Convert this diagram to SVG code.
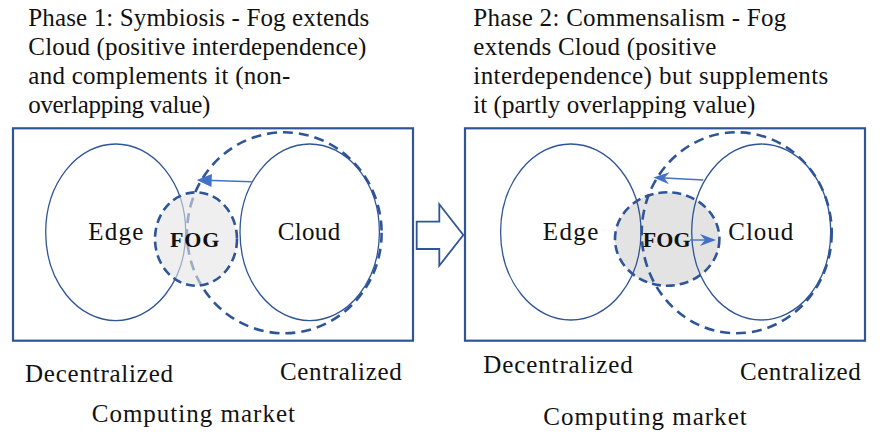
<svg xmlns="http://www.w3.org/2000/svg" width="880" height="435" viewBox="0 0 880 435">
  <defs>
    <style>
      .txt { font-family: "Liberation Serif", "Times New Roman", Times, serif; font-size: 25px; font-weight: normal; fill: #111; }
      .fog { font-family: "Liberation Serif", "Times New Roman", Times, serif; font-size: 22px; font-weight: bold; fill: #111; }
      .panel { fill: none; stroke: #2f5597; stroke-width: 2.2; }
      .set { fill: none; stroke: #2f5597; stroke-width: 1.3; }
      .reach { fill: none; stroke: #2f5597; stroke-width: 2.6; stroke-dasharray: 10 6; }
      .fogring { fill: none; stroke: #2f5597; stroke-width: 2.6; stroke-dasharray: 9 5; }
      .link { fill: none; stroke: #4472c4; stroke-width: 1.4; }
      .head { fill: #4472c4; stroke: none; }
    </style>
    <!-- arrowheads pointing along +x, tip at the origin -->
    <path id="tri" class="head" d="M0,0 L-15,-6.5 L-15,6.5 z"/>
    <path id="stealth" class="head" d="M0,0 L-16,-6 L-11,0 L-16,6 z"/>
  </defs>

  <!-- Phase 1 caption -->
  <g id="title1">
    <text class="txt" x="28.3" y="26" textLength="341" lengthAdjust="spacing">Phase 1: Symbiosis - Fog extends</text>
    <text class="txt" x="28.3" y="55" textLength="338" lengthAdjust="spacing">Cloud (positive interdependence)</text>
    <text class="txt" x="28.3" y="84" textLength="262" lengthAdjust="spacing">and complements it (non-</text>
    <text class="txt" x="28.3" y="112.5" textLength="182" lengthAdjust="spacing">overlapping value)</text>
  </g>

  <!-- Phase 2 caption -->
  <g id="title2">
    <text class="txt" x="473.3" y="26" textLength="313" lengthAdjust="spacing">Phase 2: Commensalism - Fog</text>
    <text class="txt" x="473.3" y="55" textLength="243" lengthAdjust="spacing">extends Cloud (positive</text>
    <text class="txt" x="473.3" y="84" textLength="355" lengthAdjust="spacing">interdependence) but supplements</text>
    <text class="txt" x="473.3" y="112.5" textLength="282" lengthAdjust="spacing">it (partly overlapping value)</text>
  </g>

  <!-- Phase 1 market -->
  <g id="panel1">
    <rect class="panel" x="13" y="128.3" width="400" height="212.4"/>
  </g>
  <g id="edge1">
    <ellipse class="set" cx="115.7" cy="232.3" rx="70" ry="88.3"/>
    <text class="txt" x="88.3" y="240" textLength="55" lengthAdjust="spacing">Edge</text>
  </g>
  <g id="cloud1">
    <ellipse class="set" cx="309.7" cy="232.3" rx="69.7" ry="88.3"/>
    <text class="txt" x="277.7" y="239.5" textLength="62.5" lengthAdjust="spacing">Cloud</text>
  </g>
  <g id="cloudreach1">
    <ellipse class="reach" cx="284.3" cy="232.8" rx="97.3" ry="100.5"/>
  </g>
  <g id="fog1">
    <ellipse cx="196" cy="239" rx="41" ry="46.7" fill="#e4e4e4" fill-opacity="0.6"/>
    <ellipse class="fogring" cx="196" cy="239" rx="41" ry="46.7"/>
    <text class="fog" x="170" y="246.7" textLength="49.3" lengthAdjust="spacing">FOG</text>
  </g>

  <!-- Phase 2 market -->
  <g id="panel2">
    <rect class="panel" x="465" y="128.3" width="400" height="212.4"/>
  </g>
  <g id="fog2">
    <ellipse cx="667.2" cy="239" rx="52.2" ry="46.7" fill="#e3e3e3"/>
  </g>
  <g id="edge2">
    <ellipse class="set" cx="570.8" cy="232" rx="70.2" ry="88"/>
    <text class="txt" x="542.7" y="240" textLength="55.6" lengthAdjust="spacing">Edge</text>
  </g>
  <g id="cloud2">
    <ellipse class="set" cx="761.2" cy="232" rx="69.5" ry="88"/>
    <text class="txt" x="728.3" y="239.5" textLength="65" lengthAdjust="spacing">Cloud</text>
  </g>
  <g id="cloudreach2">
    <ellipse class="reach" cx="736.7" cy="232.8" rx="95" ry="100.5"/>
  </g>
  <g id="fog2ring">
    <ellipse class="fogring" cx="667.2" cy="239" rx="52.2" ry="46.7"/>
    <text class="fog" x="642.7" y="246.7" textLength="48" lengthAdjust="spacing">FOG</text>
  </g>

  <!-- Transition between phases -->
  <g id="transition">
    <path d="M416.7,221.7 H439.3 V204.3 L463.3,235 L439.3,265.7 V249 H416.7 z" fill="#fff" stroke="#2f5597" stroke-width="1.8" stroke-linejoin="miter"/>
  </g>

  <!-- Connectors: shafts plus placed arrowheads -->
  <g id="connectors">
    <line class="link" x1="251.7" y1="181.7" x2="205" y2="180.3"/>
    <use href="#tri" transform="translate(196.7,180) rotate(181.8)"/>
    <line class="link" x1="703.3" y1="180" x2="660" y2="177.8"/>
    <use href="#stealth" transform="translate(653.3,177.5) rotate(182.9)"/>
    <line class="link" x1="690" y1="240" x2="708" y2="240"/>
    <use href="#stealth" transform="translate(716,240)"/>
  </g>

  <!-- Axis labels -->
  <g id="labels1">
    <text class="txt" x="25" y="381.7" textLength="148" lengthAdjust="spacing">Decentralized</text>
    <text class="txt" x="280" y="380" textLength="121.7" lengthAdjust="spacing">Centralized</text>
    <text class="txt" x="91.7" y="421.5" textLength="203.3" lengthAdjust="spacing">Computing market</text>
  </g>
  <g id="labels2">
    <text class="txt" x="483.3" y="373.3" textLength="149.4" lengthAdjust="spacing">Decentralized</text>
    <text class="txt" x="740" y="380" textLength="120.7" lengthAdjust="spacing">Centralized</text>
    <text class="txt" x="543.3" y="425" textLength="203.4" lengthAdjust="spacing">Computing market</text>
  </g>
</svg>
